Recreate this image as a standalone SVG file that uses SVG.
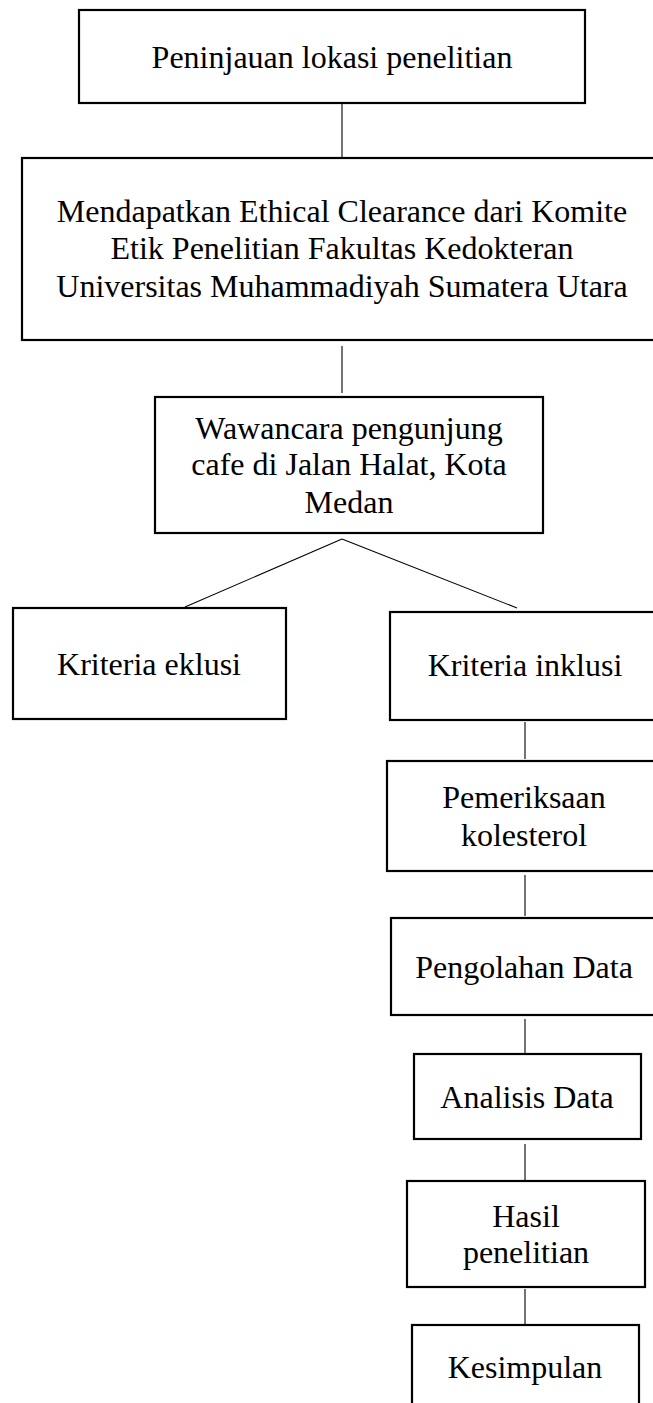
<svg xmlns="http://www.w3.org/2000/svg" width="653" height="1403" viewBox="0 0 653 1403">
<style>
.box{fill:#fff;stroke:#000;stroke-width:2.2}
.t{font-family:"Liberation Serif","Times New Roman",serif;font-size:32px;fill:#000;text-anchor:middle}
.c{stroke:#000;stroke-width:1.1;fill:none}
</style>
<rect width="653" height="1403" fill="#fff"/>
<g id="connectors">
<line class="c" x1="342" y1="104" x2="342" y2="157"/>
<line class="c" x1="342" y1="346" x2="342" y2="393"/>
<line class="c" x1="342" y1="539" x2="185" y2="607"/>
<line class="c" x1="342" y1="539" x2="517" y2="608"/>
<line class="c" x1="525" y1="722" x2="525" y2="759"/>
<line class="c" x1="525" y1="875" x2="525" y2="916"/>
<line class="c" x1="525" y1="1019" x2="525" y2="1054"/>
<line class="c" x1="525" y1="1144" x2="525" y2="1180"/>
<line class="c" x1="525" y1="1289" x2="525" y2="1325"/>
</g>
<g id="n1"><rect class="box" x="79" y="10" width="506" height="93"/><text class="t" x="332" y="68">Peninjauan lokasi penelitian</text></g>
<g id="n2"><rect class="box" x="22" y="158" width="640" height="182"/>
<text class="t" x="342" y="222">Mendapatkan Ethical Clearance dari Komite</text>
<text class="t" x="342" y="259">Etik Penelitian Fakultas Kedokteran</text>
<text class="t" x="342" y="297">Universitas Muhammadiyah Sumatera Utara</text></g>
<g id="n3"><rect class="box" x="155" y="397" width="388" height="136"/>
<text class="t" x="349" y="439">Wawancara pengunjung</text>
<text class="t" x="349" y="475">cafe di Jalan Halat, Kota</text>
<text class="t" x="349" y="513">Medan</text></g>
<g id="n4"><rect class="box" x="13" y="608" width="273" height="111"/><text class="t" x="149" y="675">Kriteria eklusi</text></g>
<g id="n5"><rect class="box" x="390" y="612" width="272" height="108"/><text class="t" x="525" y="676">Kriteria inklusi</text></g>
<g id="n6"><rect class="box" x="387" y="761" width="275" height="110"/>
<text class="t" x="524" y="808">Pemeriksaan</text>
<text class="t" x="524" y="846">kolesterol</text></g>
<g id="n7"><rect class="box" x="391" y="918" width="271" height="97"/><text class="t" x="524" y="978">Pengolahan Data</text></g>
<g id="n8"><rect class="box" x="414" y="1054" width="227" height="85"/><text class="t" x="527" y="1108">Analisis Data</text></g>
<g id="n9"><rect class="box" x="407" y="1181" width="238" height="106"/>
<text class="t" x="526" y="1227">Hasil</text>
<text class="t" x="526" y="1263">penelitian</text></g>
<g id="n10"><rect class="box" x="412" y="1325" width="227" height="90"/><text class="t" x="525" y="1378">Kesimpulan</text></g>
</svg>
